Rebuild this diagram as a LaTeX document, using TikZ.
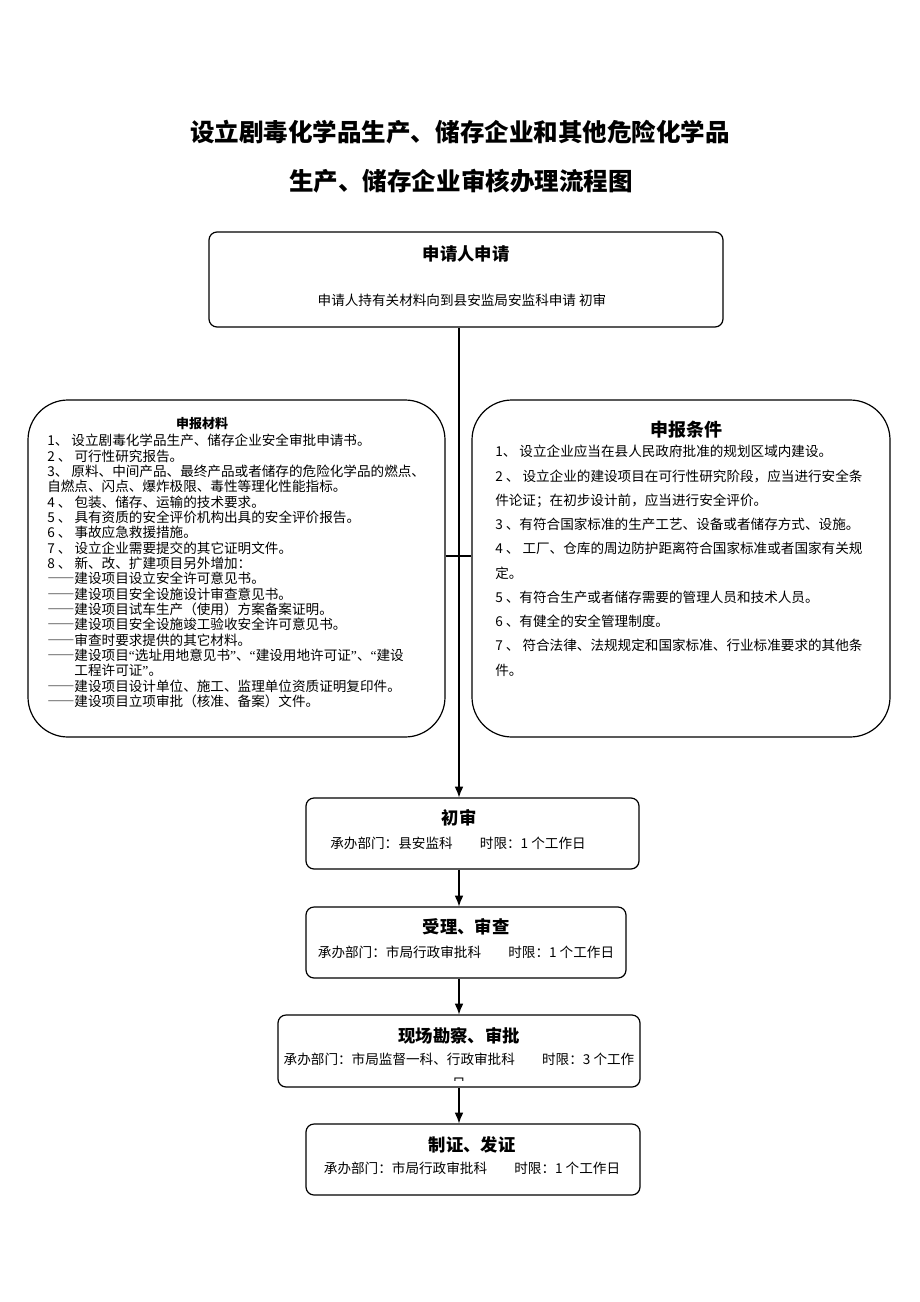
\documentclass[tikz,border=0pt]{standalone}
\usepackage{fontspec}
\setmainfont{Noto Sans CJK SC}
\newfontfamily\latin{Liberation Serif}
\newcommand\longdash{{\addfontfeature{RawFeature=+fwid}——}}
\usetikzlibrary{arrows.meta}
\begin{document}
\begin{tikzpicture}[x=0.75pt, y=-0.75pt,
	every node/.style={inner sep=0pt},
	stepbox/.style={draw, line width=0.9pt, rounded corners=6pt},
	listbox/.style={draw, line width=0.9pt, rounded corners=30pt},
	head/.style={font=\bfseries\fontsize{13}{15}\selectfont},
	sub/.style={font=\fontsize{10.2}{12}\selectfont},
	flow/.style={line width=0.9pt, -{Latex[length=8pt,width=6.5pt]}}]
	\useasboundingbox (0,0) rectangle (920,1302);
	
	\node (title1) at (460,132) {\bfseries\fontsize{18.4}{20}\selectfont 设立剧毒化学品生产、储存企业和其他危险化学品};
	\node (title2) at (461,181) {\bfseries\fontsize{18.4}{20}\selectfont 生产、储存企业审核办理流程图};
	
	\node (apply) at (466,279.5) [stepbox, minimum width=385.5pt, minimum height=71.25pt] {};
	\node (applyh) at (466,254) [head] {申请人申请};
	\node (applys) at (462,300) [sub] {申请人持有关材料向到县安监局安监科申请 初审};
	
	\node (mat) at (236.5,568.5) [listbox, minimum width=312.75pt, minimum height=252.75pt] {};
	\node (math) at (202,424) [font=\bfseries\fontsize{9.75}{11}\selectfont] {申报材料};
	\node (matl) at (47,434) [anchor=north west, align=left, font=\fontsize{10.2}{11.5}\selectfont] {%
		1、 设立剧毒化学品生产、储存企业安全审批申请书。\\
		2 、 可行性研究报告。\\
		3、 原料、中间产品、最终产品或者储存的危险化学品的燃点、\\
		自燃点、闪点、爆炸极限、毒性等理化性能指标。\\
		4 、 包装、储存、运输的技术要求。\\
		5 、 具有资质的安全评价机构出具的安全评价报告。\\
		6 、 事故应急救援措施。\\
		7 、 设立企业需要提交的其它证明文件。\\
		8 、 新、改、扩建项目另外增加：\\
		\longdash 建设项目设立安全许可意见书。\\
		\longdash 建设项目安全设施设计审查意见书。\\
		\longdash 建设项目试车生产（使用）方案备案证明。\\
		\longdash 建设项目安全设施竣工验收安全许可意见书。\\
		\longdash 审查时要求提供的其它材料。\\
		\longdash 建设项目{\latin “}选址用地意见书{\latin ”}、{\latin “}建设用地许可证{\latin ”}、{\latin “}建设\\
		\hspace*{2em}工程许可证{\latin ”}。\\
		\longdash 建设项目设计单位、施工、监理单位资质证明复印件。\\
		\longdash 建设项目立项审批（核准、备案）文件。};
	
	\node (cond) at (681,568.5) [listbox, minimum width=313.5pt, minimum height=252.75pt] {};
	\node (condh) at (686,430) [font=\bfseries\fontsize{13.5}{15}\selectfont] {申报条件};
	\node (condl) at (495,445) [anchor=north west, align=left, font=\fontsize{10.2}{18.2}\selectfont] {%
		1、 设立企业应当在县人民政府批准的规划区域内建设。\\
		2 、 设立企业的建设项目在可行性研究阶段，应当进行安全条\\
		件论证；在初步设计前，应当进行安全评价。\\
		3 、有符合国家标准的生产工艺、设备或者储存方式、设施。\\
		4 、 工厂、仓库的周边防护距离符合国家标准或者国家有关规\\
		定。\\
		5 、有符合生产或者储存需要的管理人员和技术人员。\\
		6 、有健全的安全管理制度。\\
		7 、 符合法律、法规规定和国家标准、行业标准要求的其他条\\
		件。};
	
	\node (chu) at (472.5,833.5) [stepbox, minimum width=249.75pt, minimum height=53.25pt] {};
	\node (chuh) at (459,818) [head] {初审};
	\node (chus) at (458,843) [sub] {承办部门：县安监科\hspace{2em}时限：1 个工作日};
	
	\node (shou) at (466,942.5) [stepbox, minimum width=240pt, minimum height=53.25pt] {};
	\node (shouh) at (466,927) [head] {受理、审查};
	\node (shous) at (466,952) [sub] {承办部门：市局行政审批科\hspace{2em}时限：1 个工作日};
	
	\node (xian) at (459,1051) [stepbox, minimum width=271.5pt, minimum height=54pt] {};
	\node (xianh) at (459,1036) [head] {现场勘察、审批};
	\node (xians) at (459,1059) [sub] {承办部门：市局监督一科、行政审批科\hspace{2em}时限：3 个工作};
	\begin{scope}
		\clip (280,1016) rectangle (638,1080);
		\node (xianr) at (459,1084) [sub] {日};
	\end{scope}
	
	\node (zhi) at (473,1159.5) [stepbox, minimum width=250.5pt, minimum height=53.25pt] {};
	\node (zhih) at (472,1145) [head] {制证、发证};
	\node (zhis) at (472,1168) [sub] {承办部门：市局行政审批科\hspace{2em}时限：1 个工作日};
	
	\draw[flow] (apply.south -| chuh) -- (chu.north -| chuh);
	\draw[line width=0.9pt] ([yshift=9.4pt]mat.east) -- ([yshift=9.4pt]cond.west);
	\draw[flow] (chu.south -| chuh) -- (shou.north -| chuh);
	\draw[flow] (shou.south -| chuh) -- (xian.north -| chuh);
	\draw[flow] (xian.south -| chuh) -- (zhi.north -| chuh);
\end{tikzpicture}
\end{document}
